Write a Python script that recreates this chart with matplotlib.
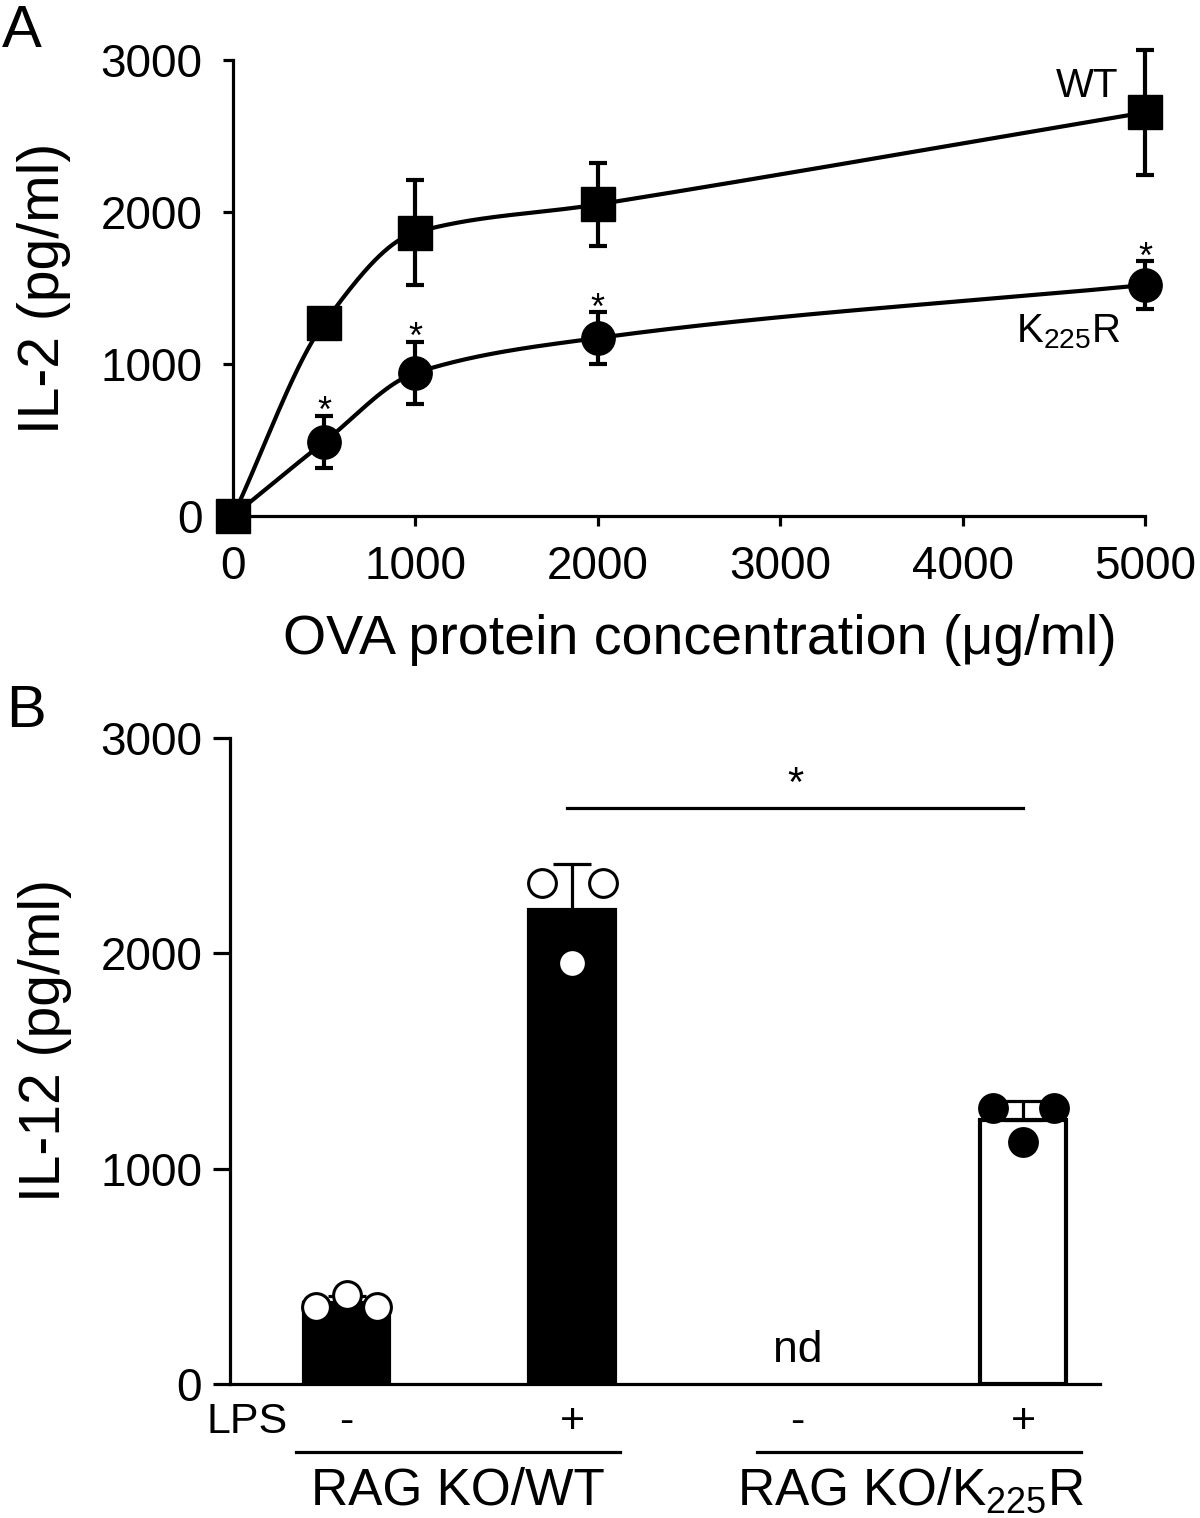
import matplotlib
matplotlib.use("Agg")
import matplotlib.pyplot as plt
import numpy as np

plt.rcParams["font.family"] = ["Liberation Sans", "DejaVu Sans"]
plt.rcParams["mathtext.fontset"] = "custom"
plt.rcParams["mathtext.rm"] = "Liberation Sans"

# Panel A: IL-2 vs OVA concentration
ova_conc = [0, 500, 1000, 2000, 5000]
wt_il2 = [0, 1270, 1865, 2050, 2655]
wt_il2_err = [0, 40, 345, 275, 410]
k225r_il2 = [0, 487, 941, 1171, 1520]
k225r_il2_err = [0, 170, 205, 168, 155]
k225r_signif = [False, True, True, True, True]

# Panel B: IL-12 bars
lps_labels = ["-", "+", "-", "+"]
il12_mean = [376, 2200, 0, 1228]
il12_sd = [32, 215, 0, 88]
il12_points = [[357, 413, 357], [2325, 1954, 2325], [], [1281, 1123, 1281]]
il12_detected = [True, True, False, True]
group_labels = ["RAG KO/WT", "RAG KO/K$\\mathregular{_{225}}$R"]

LW = 2.3
BAR_FACE = ["black", "black", "none", "white"]
POINT_FACE = ["white", "white", "none", "black"]
JITTER = [-0.135, 0.0, 0.135]


def pchip(x, y, xs):
    x = np.asarray(x, float)
    y = np.asarray(y, float)
    h = np.diff(x)
    d = np.diff(y) / h
    m = np.zeros_like(y)
    m[0], m[-1] = d[0], d[-1]
    for k in range(1, len(x) - 1):
        if d[k - 1] * d[k] > 0:
            w1 = 2 * h[k] + h[k - 1]
            w2 = h[k] + 2 * h[k - 1]
            m[k] = (w1 + w2) / (w1 / d[k - 1] + w2 / d[k])
    idx = np.clip(np.searchsorted(x, xs) - 1, 0, len(x) - 2)
    t = (xs - x[idx]) / h[idx]
    h00 = 2 * t**3 - 3 * t**2 + 1
    h10 = t**3 - 2 * t**2 + t
    h01 = -2 * t**3 + 3 * t**2
    h11 = t**3 - t**2
    return h00 * y[idx] + h10 * h[idx] * m[idx] + h01 * y[idx + 1] + h11 * h[idx] * m[idx + 1]


fig = plt.figure(figsize=(12, 15.18), dpi=100)

# ---------------- Panel A ----------------
ax = fig.add_axes([233 / 1200, 1 - 516 / 1518, 912 / 1200, 456 / 1518])
xs = np.linspace(0, 5000, 600)
for vals, err, marker in [(wt_il2, wt_il2_err, "s"), (k225r_il2, k225r_il2_err, "o")]:
    ax.plot(xs, pchip(ova_conc, vals, xs), color="black", lw=3, clip_on=False, zorder=2)
    ax.errorbar(ova_conc, vals, yerr=err, fmt=marker, color="black", ms=24,
                elinewidth=3, capsize=6.5, capthick=3, clip_on=False, zorder=3)

for x, v, e, s in zip(ova_conc, k225r_il2, k225r_il2_err, k225r_signif):
    if s:
        ax.text(x, v + e - 40, "*", ha="center", va="baseline", fontsize=26)

ax.text(4852, 2757, "WT", ha="right", va="baseline", fontsize=29)
ax.text(4863, 1145, "K$\\mathregular{_{225}}$R", ha="right", va="baseline", fontsize=29)

ax.set_xlim(0, 5000)
ax.set_ylim(0, 3000)
ax.set_xticks([0, 1000, 2000, 3000, 4000, 5000])
ax.set_yticks([0, 1000, 2000, 3000])
for side in ["top", "right"]:
    ax.spines[side].set_visible(False)
for side in ["left", "bottom"]:
    ax.spines[side].set_linewidth(LW)
ax.tick_params(axis="both", length=7, width=LW, labelsize=33)
ax.tick_params(axis="y", pad=15)
ax.tick_params(axis="x", pad=14)
ax.text(-0.207, 0.5, "IL-2 (pg/ml)", transform=ax.transAxes, rotation=90,
        ha="center", va="center", fontsize=41)
ax.text(0.512, -0.272, "OVA protein concentration (\u03bcg/ml)", transform=ax.transAxes,
        ha="center", va="center", fontsize=40)

fig.text(2 / 1200, 1 - 47 / 1518, "A", fontsize=43, ha="left", va="baseline")

# ---------------- Panel B ----------------
bx = fig.add_axes([230 / 1200, 1 - 1384 / 1518, 870 / 1200, 646 / 1518])
pos = np.arange(len(il12_mean))
for i in pos:
    if not il12_detected[i]:
        bx.text(i, 102, "nd", ha="center", va="baseline", fontsize=32)
        continue
    bx.bar(i, il12_mean[i], width=0.38, color=BAR_FACE[i], edgecolor="black", linewidth=3, zorder=2)
    bx.errorbar(i, il12_mean[i], yerr=[[0], [il12_sd[i]]], fmt="none", ecolor="black",
                elinewidth=2.3, capsize=14, capthick=2.3, zorder=3)
    bx.plot(i + np.array(JITTER), il12_points[i], "o", ms=20, mfc=POINT_FACE[i],
            mec="black", mew=2.2, zorder=4, clip_on=False)

bx.plot([0.975, 3.0], [2673, 2673], color="black", lw=2.3, clip_on=False)
bx.text(1.99, 2733, "*", ha="center", va="baseline", fontsize=30)

bx.set_xlim(-0.517, 3.34)
bx.set_ylim(0, 3000)
bx.set_yticks([0, 1000, 2000, 3000])
bx.set_xticks([])
for side in ["top", "right"]:
    bx.spines[side].set_visible(False)
for side in ["left", "bottom"]:
    bx.spines[side].set_linewidth(LW)
bx.tick_params(axis="y", length=12, width=LW, labelsize=33, pad=8)
bx.text(-0.213, 0.532, "IL-12 (pg/ml)", transform=bx.transAxes, rotation=90,
        ha="center", va="center", fontsize=41)

trans = bx.get_xaxis_transform()
bx.text(-0.26, -0.076, "LPS", transform=trans, ha="right", va="baseline", fontsize=31)
for i, s in zip(pos, lps_labels):
    bx.text(i, -0.076, s, transform=trans, ha="center", va="baseline", fontsize=31)
for (x0, x1), xc, lab in zip([(-0.224, 1.213), (1.82, 3.257)], [0.495, 2.5], group_labels):
    bx.plot([x0, x1], [-0.105, -0.105], transform=trans, color="black", lw=2.3, clip_on=False)
    bx.text(xc, -0.187, lab, transform=trans, ha="center", va="baseline", fontsize=37)

fig.text(6 / 1200, 1 - 727 / 1518, "B", fontsize=43, ha="left", va="baseline")

fig.savefig("out.png", dpi=100)
